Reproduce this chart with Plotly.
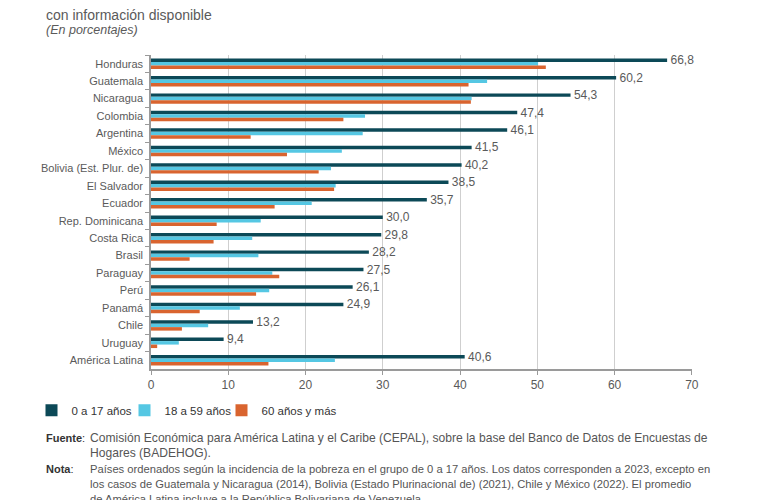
import plotly.graph_objects as go

countries = ["Honduras", "Guatemala", "Nicaragua", "Colombia", "Argentina", "México",
             "Bolivia (Est. Plur. de)", "El Salvador", "Ecuador", "Rep. Dominicana",
             "Costa Rica", "Brasil", "Paraguay", "Perú", "Panamá", "Chile", "Uruguay",
             "América Latina"]
age_0_17 = [66.8, 60.2, 54.3, 47.4, 46.1, 41.5, 40.2, 38.5, 35.7, 30.0, 29.8, 28.2,
            27.5, 26.1, 24.9, 13.2, 9.4, 40.6]
age_18_59 = [50.1, 43.5, 41.5, 27.7, 27.4, 24.7, 23.3, 23.9, 20.8, 14.2, 13.1, 13.9,
             15.7, 15.3, 11.5, 7.4, 3.6, 23.8]
age_60 = [51.1, 41.1, 41.4, 24.9, 12.9, 17.6, 21.7, 23.7, 16.0, 8.5, 8.1, 5.0,
          16.6, 13.6, 6.3, 4.0, 0.8, 15.2]
series_names = ["0 a 17 años", "18 a 59 años", "60 años y más"]
colors = ["#0c4957", "#55c7e3", "#d9642f"]
x_ticks = [0, 10, 20, 30, 40, 50, 60, 70]

FONT = "'Liberation Sans', Arial, sans-serif"
GRAY = "#5a5a5a"

# the page body adds an 8px offset; work in page pixels and subtract it
OFF = 8
W, H = 765 - OFF, 500 - OFF
L, R, T, B = 151 - OFF, 73, 55 - OFF, 131
pw = W - L - R
ph = H - T - B


def px_to_paper_x(px):
    return (px - OFF - L) / pw


def px_to_paper_y(py):
    return (H - B - (py - OFF)) / ph


legend_ids = ["legend", "legend2", "legend3"]
legend_px = [31.5, 124.5, 221.5]

fig = go.Figure()
for name, vals, col, show_text, lg in zip(series_names, [age_0_17, age_18_59, age_60],
                                          colors, [True, False, False], legend_ids):
    fig.add_trace(go.Bar(
        y=countries, x=vals, name=name, orientation="h",
        marker=dict(color=col, line=dict(width=0)),
        text=vals if show_text else None,
        texttemplate=" %{x:.1f}" if show_text else None,
        textposition="outside" if show_text else "none",
        constraintext="none",
        textfont=dict(family=FONT, size=12, color=GRAY),
        cliponaxis=False,
        legend=lg,
    ))

legend_common = dict(orientation="h", xanchor="left", yanchor="top",
                     font=dict(family=FONT, size=11.5, color="#333"),
                     bgcolor="rgba(0,0,0,0)")
legends = {}
for lg, lx in zip(legend_ids, legend_px):
    legends[lg] = dict(legend_common, x=px_to_paper_x(lx), y=-0.085)

fig.update_layout(
    width=W, height=H,
    margin=dict(l=L, r=R, t=T, b=B, autoexpand=False),
    paper_bgcolor="white", plot_bgcolor="white",
    barmode="group", bargap=0.4, bargroupgap=0,
    separators=",.",
    font=dict(family=FONT, size=12, color=GRAY),
    showlegend=True,
    xaxis=dict(range=[0, 70.02], tickvals=x_ticks, showgrid=True, gridcolor="#cfcfcf",
               gridwidth=1, showline=True, linecolor="#9a9a9a", linewidth=1.5,
               ticks="outside", ticklen=4, tickcolor="#9a9a9a", zeroline=False,
               tickfont=dict(family=FONT, size=12, color=GRAY)),
    yaxis=dict(autorange="reversed", showline=True, linecolor="#9a9a9a", linewidth=1.5,
               ticks="outside", ticklen=4, tickcolor="#9a9a9a", tickson="boundaries",
               ticklabelstandoff=4,
               showgrid=False, tickfont=dict(family=FONT, size=11, color=GRAY)),
    **legends,
)

anns = [
    (44, 15, "con información disponible", 14, "#5a5a5a"),
    (44, 30, "<i>(En porcentajes)</i>", 12.5, "#5a5a5a"),
    (44, 438, "<b>Fuente</b>:", 11, "#333"),
    (88, 438, "Comisión Económica para América Latina y el Caribe (CEPAL), sobre la base del Banco de Datos de Encuestas de", 12.1, "#555"),
    (88, 453, "Hogares (BADEHOG).", 12.1, "#555"),
    (44, 469, "<b>Nota</b>:", 11, "#333"),
    (88, 469, "Países ordenados según la incidencia de la pobreza en el grupo de 0 a 17 años. Los datos corresponden a 2023, excepto en", 11.2, "#555"),
    (88, 484, "los casos de Guatemala y Nicaragua (2014), Bolivia (Estado Plurinacional de) (2021), Chile y México (2022). El promedio", 11.2, "#555"),
    (88, 499, "de América Latina incluye a la República Bolivariana de Venezuela.", 11.2, "#555"),
]
for x, y, txt, size, col in anns:
    fig.add_annotation(xref="paper", yref="paper", x=px_to_paper_x(x), y=px_to_paper_y(y),
                       xanchor="left", yanchor="middle", text=txt, showarrow=False,
                       font=dict(family=FONT, size=size, color=col))

fig.write_html("out.html")
